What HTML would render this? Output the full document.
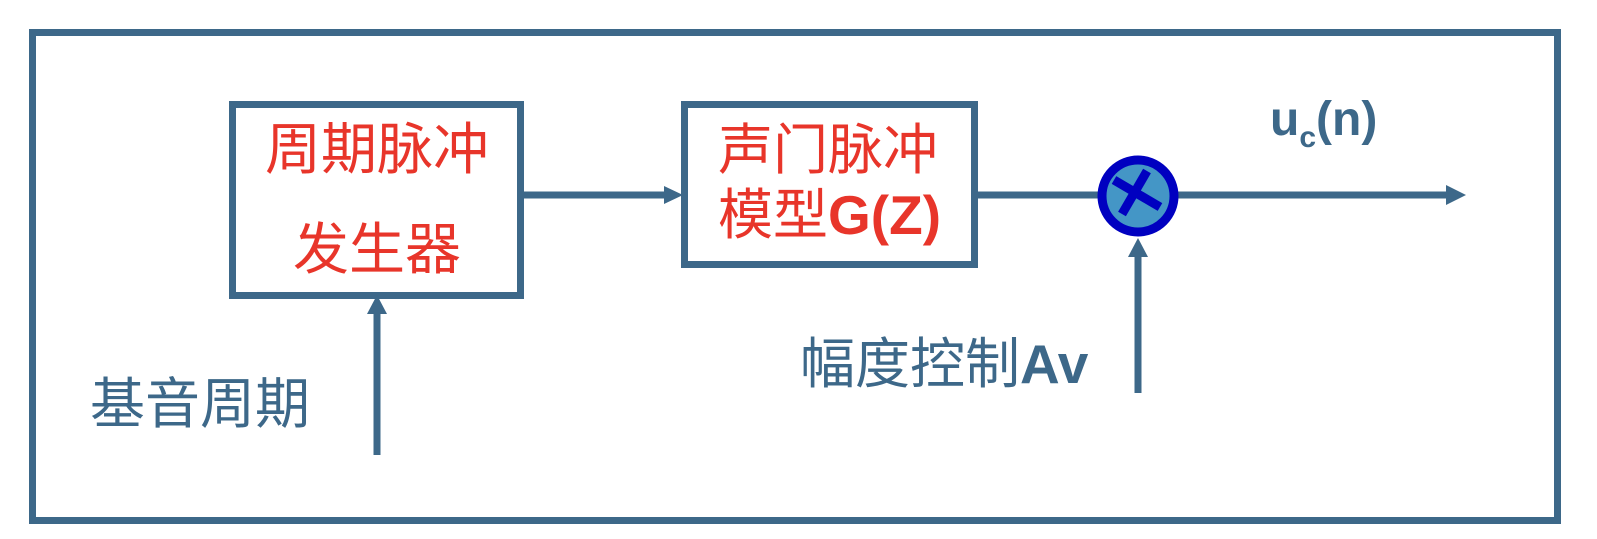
<!DOCTYPE html>
<html><head><meta charset="utf-8"><style>
body{margin:0;background:#fff;width:1597px;height:539px;overflow:hidden;position:relative;font-family:"Liberation Sans","Noto Sans CJK SC",sans-serif}
.t{position:absolute;white-space:nowrap;line-height:1}
.r{color:#e8352a}
.b{color:#3d6889}
</style></head><body>
<svg width="1597" height="539" style="position:absolute;left:0;top:0">
<g fill="none" stroke="#3d6889" stroke-width="7">
<rect x="32.5" y="32.5" width="1525" height="488"/>
<rect x="232.5" y="104.5" width="288" height="191"/>
<rect x="684.5" y="104.5" width="290" height="160"/>
<line x1="524" y1="195" x2="668" y2="195"/>
<line x1="978" y1="195" x2="1100" y2="195"/>
<line x1="1178" y1="195" x2="1448" y2="195"/>
<line x1="377" y1="455" x2="377" y2="312"/>
<line x1="1138" y1="393" x2="1138" y2="252"/>
</g>
<g fill="#3d6889">
<polygon points="683,195 664,186 664,204"/>
<polygon points="1466,195 1446,185 1446,205"/>
<polygon points="377,295 367,314 387,314"/>
<polygon points="1138,238 1128,257 1148,257"/>
</g>
<circle cx="1138" cy="196" r="36" fill="#4496c6" stroke="#0000c0" stroke-width="9"/>
<g stroke="#0000c0" stroke-width="9">
<line x1="1114" y1="180" x2="1160" y2="207"/>
<line x1="1147" y1="171" x2="1122" y2="214"/>
</g>
</svg>
<div class="t r" style="left:265px;top:122px;font-size:56px">周期脉冲</div>
<div class="t r" style="left:293px;top:222px;font-size:56px">发生器</div>
<div class="t r" style="left:718px;top:123px;font-size:55px">声门脉冲</div>
<div class="t r" style="left:718px;top:188px;font-size:55px">模型<b>G(Z)</b></div>
<div class="t b" style="left:90px;top:377px;font-size:55px">基音周期</div>
<div class="t b" style="left:800px;top:337px;font-size:55px">幅度控制<b>Av</b></div>
<div class="t b" style="left:1270px;top:96px;font-size:48px;font-weight:bold">u<span style="font-size:30px;position:relative;top:12px">c</span>(n)</div>
</body></html>
